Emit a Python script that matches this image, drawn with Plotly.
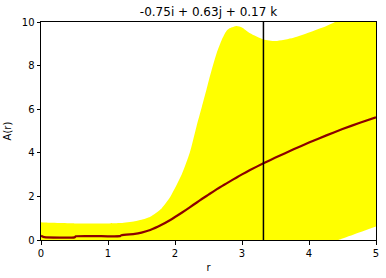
import plotly.graph_objects as go

r = [0, 0.05, 0.5, 0.52, 1.0, 1.18, 1.2, 1.4, 1.5, 1.63, 1.8, 1.93, 2.1, 2.22, 2.32, 2.4,
     2.47, 2.52, 2.62, 2.7, 2.77, 2.82, 2.92, 3.0, 3.12, 3.32, 3.5, 3.77, 4.0, 4.26, 4.5, 4.76, 5.0]
mean = [0.2, 0.13, 0.12, 0.17, 0.17, 0.18, 0.22, 0.28, 0.34, 0.46, 0.70, 0.92, 1.25, 1.50, 1.71, 1.88,
        2.02, 2.12, 2.32, 2.47, 2.60, 2.69, 2.87, 3.01, 3.21, 3.52, 3.78, 4.16, 4.47, 4.80, 5.09, 5.38, 5.63]
upper = [0.81, 0.8, 0.76, 0.76, 0.76, 0.78, 0.78, 0.86, 0.93, 1.07, 1.45, 1.98, 3.0, 4.0, 5.2, 6.1,
         6.9, 7.5, 8.56, 9.2, 9.6, 9.72, 9.82, 9.75, 9.48, 9.2, 9.13, 9.28, 9.52, 9.82, 10.15, 10.38, 10.62]
lower = [-0.41, -0.54, -0.52, -0.42, -0.42, -0.42, -0.34, -0.30, -0.25, -0.15, -0.05, -0.14, -0.5, -1.0, -1.78, -2.34,
         -2.86, -3.26, -3.92, -4.26, -4.4, -4.34, -4.08, -3.73, -3.06, -2.16, -1.57, -0.96, -0.58, -0.2, 0.07, 0.36, 0.62]
vline_r = 3.32
title_text = "-0.75i + 0.63j + 0.17 k"

fig = go.Figure()
fig.add_trace(go.Scatter(x=r, y=lower, mode="lines", line=dict(width=0, color="yellow", shape="spline", smoothing=0.6),
                         showlegend=False, hoverinfo="skip"))
fig.add_trace(go.Scatter(x=r, y=upper, mode="lines", line=dict(width=0, color="yellow", shape="spline", smoothing=0.6),
                         fill="tonexty", fillcolor="#ffff00", showlegend=False, hoverinfo="skip"))
fig.add_trace(go.Scatter(x=r, y=mean, mode="lines", line=dict(width=2.2, color="#8b0000", shape="spline", smoothing=0.4),
                         showlegend=False))
fig.add_vline(x=vline_r, line=dict(color="black", width=1.5))

font = dict(family="DejaVu Sans", size=10, color="black")
axis_common = dict(showline=True, mirror=True, linecolor="black", linewidth=1,
                   ticks="outside", ticklen=3.5, tickwidth=1, tickcolor="black",
                   showgrid=False, zeroline=False, tickfont=font, automargin=False)
fig.update_xaxes(range=[0, 5], tickvals=[0, 1, 2, 3, 4, 5], **axis_common,
                 title=dict(text="r", font=font, standoff=6))
fig.update_yaxes(range=[0, 10], tickvals=[0, 2, 4, 6, 8, 10], **axis_common,
                 title=dict(text="A(r)", font=font, standoff=8))
fig.update_layout(
    width=386, height=278,
    margin=dict(l=41, r=10, t=22, b=38),
    plot_bgcolor="white", paper_bgcolor="white",
    font=font,
    title=dict(text=title_text, x=0.5, xref="paper", y=1 - 12/278, yref="container",
               xanchor="center", yanchor="middle",
               font=dict(family="DejaVu Sans", size=12, color="black")),
)
fig.write_html("out.html")
